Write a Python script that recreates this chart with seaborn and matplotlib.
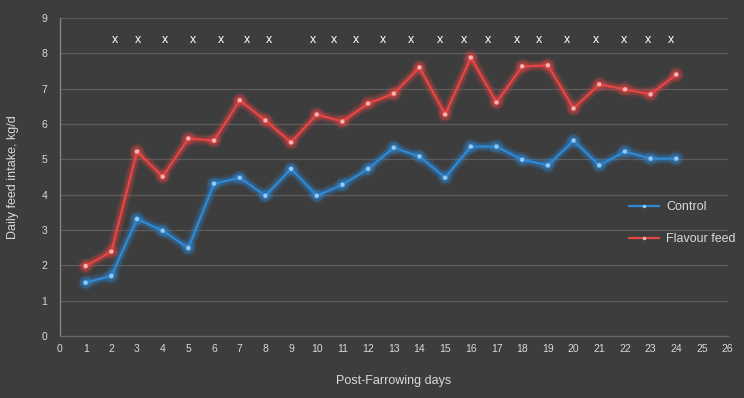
import matplotlib
matplotlib.use("Agg")
import matplotlib.pyplot as plt
import matplotlib.patheffects as pe
from matplotlib.lines import Line2D
import seaborn as sns
import pandas as pd

days = list(range(1, 25))
control = [1.51, 1.70, 3.31, 2.98, 2.49, 4.31, 4.48, 3.97, 4.73, 3.97, 4.28, 4.73,
           5.33, 5.08, 4.48, 5.36, 5.36, 4.99, 4.83, 5.53, 4.83, 5.22, 5.02, 5.02]
flavour = [1.98, 2.39, 5.22, 4.51, 5.59, 5.53, 6.67, 6.10, 5.48, 6.27, 6.07, 6.58,
           6.86, 7.60, 6.27, 7.88, 6.61, 7.63, 7.66, 6.44, 7.12, 6.98, 6.84, 7.40]
series_names = ["Control", "Flavour feed"]
sig_days = [2.14, 3.04, 4.09, 5.19, 6.28, 7.29, 8.15, 9.86, 10.68, 11.54, 12.59,
            13.68, 14.78, 15.75, 16.65, 17.78, 18.67, 19.73, 20.86, 21.95, 22.89, 23.78]
sig_labels = ["x"] * len(sig_days)
x_ticks = list(range(0, 27))
y_ticks = list(range(0, 10))

df = pd.DataFrame({
    "day": days * 2,
    "intake": control + flavour,
    "group": [series_names[0]] * len(days) + [series_names[1]] * len(days),
})

bg = "#3d3d3d"
txt = "#d9d9d9"
grid = "#5c5c5c"
colors = {"Control": "#2d8ad8", "Flavour feed": "#ea4545"}
mfc = {"Control": "#9cc8ef", "Flavour feed": "#f0b8b8"}

sns.set_theme(style="dark")
plt.rcParams["font.family"] = ["Liberation Sans", "DejaVu Sans"]

fig = plt.figure(figsize=(7.44, 3.98), dpi=100, facecolor=bg)
ax = fig.add_axes([0.0806, 0.1558, 0.8974, 0.799])
ax.set_facecolor(bg)

sns.lineplot(data=df, x="day", y="intake", hue="group", palette=colors, ax=ax,
             marker="o", markersize=3.5, linewidth=1.6, legend=False, zorder=3)

for line, name in zip(ax.get_lines(), series_names):
    c = colors[name]
    line.set_markerfacecolor(mfc[name])
    line.set_markeredgecolor(c)
    line.set_markeredgewidth(0.4)
    line.set_path_effects([
        pe.Stroke(linewidth=8, foreground=c, alpha=0.14),
        pe.Stroke(linewidth=5, foreground=c, alpha=0.28),
        pe.Normal(),
    ])

for xd, lab in zip(sig_days, sig_labels):
    ax.text(xd, 8.38, lab, color="white", fontsize=9, ha="center", va="center")

ax.set_xlim(0, 26)
ax.set_ylim(0, 9)
ax.set_xticks(x_ticks)
ax.set_yticks(y_ticks)
ax.tick_params(axis="both", colors=txt, labelsize=7.5, length=0, pad=6)
ax.tick_params(axis="y", pad=9)
ax.grid(axis="y", color=grid, linewidth=0.9)
ax.grid(axis="x", visible=False)
for s in ["top", "right"]:
    ax.spines[s].set_visible(False)
ax.spines["left"].set_color("#8a8a8a")
ax.spines["bottom"].set_color("#6a6a6a")
ax.spines["left"].set_linewidth(0.9)
ax.spines["bottom"].set_linewidth(0.9)

ax.set_xlabel("Post-Farrowing days", color=txt, fontsize=9, labelpad=15)
ax.set_ylabel("Daily feed intake, kg/d", color=txt, fontsize=9, labelpad=16)

handles = [Line2D([0], [0], color=colors[n], lw=1.6, marker="o", markersize=2.5,
                  markerfacecolor=mfc[n], markeredgewidth=0) for n in series_names]
leg = ax.legend(handles, series_names, loc="center left", bbox_to_anchor=(0.835, 0.355),
                frameon=False, fontsize=9, labelspacing=1.6, handlelength=2.4,
                handletextpad=0.6)
for t in leg.get_texts():
    t.set_color(txt)

fig.savefig("out.png", dpi=100, facecolor=bg)
